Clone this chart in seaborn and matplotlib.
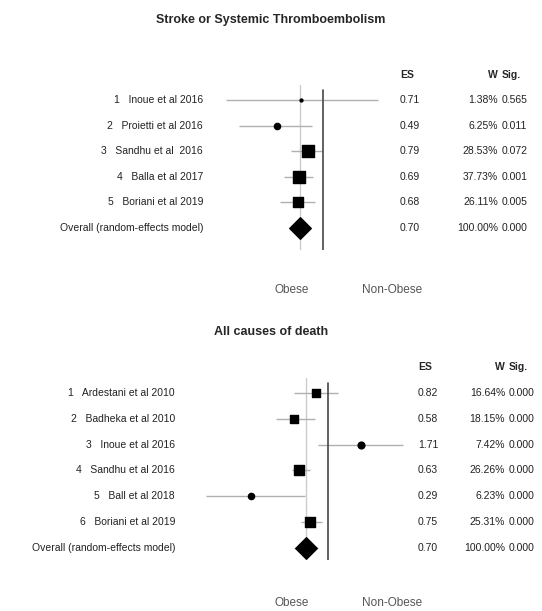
import matplotlib
matplotlib.use("Agg")
import matplotlib.pyplot as plt
import matplotlib.transforms as mtransforms
import seaborn as sns
import numpy as np

sns.set_style("white")
plt.rcParams["font.family"] = ["Liberation Sans", "DejaVu Sans"]

# Panel 1: stroke or systemic thromboembolism
stroke_studies = ["1   Inoue et al 2016", "2   Proietti et al 2016", "3   Sandhu et al  2016",
                  "4   Balla et al 2017", "5   Boriani et al 2019"]
stroke_es = [0.71, 0.49, 0.79, 0.69, 0.68]
stroke_lo = [0.22, 0.27, 0.61, 0.54, 0.51]
stroke_hi = [2.36, 0.84, 1.00, 0.86, 0.88]
stroke_w = ["1.38%", "6.25%", "28.53%", "37.73%", "26.11%"]
stroke_wnum = [1.38, 6.25, 28.53, 37.73, 26.11]
stroke_sig = ["0.565", "0.011", "0.072", "0.001", "0.005"]
stroke_overall = (0.70, 0.62, 0.79, "0.000")

# Panel 2: all causes of death
death_studies = ["1   Ardestani et al 2010", "2   Badheka et al 2010", "3   Inoue et al 2016",
                 "4   Sandhu et al 2016", "5   Ball et al 2018", "6   Boriani et al 2019"]
death_es = [0.82, 0.58, 1.71, 0.63, 0.29, 0.75]
death_lo = [0.58, 0.43, 0.85, 0.56, 0.14, 0.65]
death_hi = [1.17, 0.81, 3.35, 0.75, 0.69, 0.91]
death_w = ["16.64%", "18.15%", "7.42%", "26.26%", "6.23%", "25.31%"]
death_wnum = [16.64, 18.15, 7.42, 26.26, 6.23, 25.31]
death_sig = ["0.000", "0.000", "0.000", "0.000", "0.000", "0.000"]
death_overall = (0.70, 0.58, 0.85, "0.000")

W, H = 542, 611
fig = plt.figure(figsize=(W / 100, H / 100), dpi=100)


def px(x0, ytop, x1, ybot):
    return [x0 / W, 1 - ybot / H, (x1 - x0) / W, (ybot - ytop) / H]


def forest(rect, xlim, ylim, title, title_y, studies, es, lo, hi, wtxt, wnum, sig, overall,
           label_y, cols):
    ax = fig.add_axes(rect)
    ax.set_xscale("log")
    ax.set_xlim(*xlim)
    ax.set_ylim(*ylim)
    ax.axis("off")
    n = len(studies)
    ys = np.arange(n)
    ax.axvline(overall[0], color="#cccccc", lw=1, zorder=0)
    ax.axvline(1.0, color="#555555", lw=1.3, zorder=3, ymax=0.97)
    ax.hlines(ys, lo, hi, color="#b0b0b0", lw=1, zorder=1)
    for y, e, w in zip(ys, es, wnum):
        if w < 10:
            ax.scatter(e, y, s=max(w * 3.2, 4), marker="o", color="black", zorder=4)
        else:
            ax.scatter(e, y, s=w * 2.2, marker="s", color="black", zorder=4)
    ax.hlines(n, overall[1], overall[2], color="#b0b0b0", lw=1, zorder=1)
    ax.scatter(overall[0], n, s=120, marker="D", color="black", zorder=4)

    tr = mtransforms.blended_transform_factory(fig.transFigure, ax.transData)
    fs = 7.5
    labels = studies + ["Overall (random-effects model)"]
    es_txt = [f"{v:.2f}" for v in es] + [f"{overall[0]:.2f}"]
    w_all = wtxt + ["100.00%"]
    sig_all = sig + [overall[3]]
    for i in range(n + 1):
        ax.text(cols[0], i, labels[i], transform=tr, ha="right", va="center", fontsize=fs, color="#222222")
        ax.text(cols[1], i, es_txt[i], transform=tr, ha="left", va="center", fontsize=fs, color="#222222")
        ax.text(cols[2], i, w_all[i], transform=tr, ha="right", va="center", fontsize=fs, color="#222222")
        ax.text(cols[3], i, sig_all[i], transform=tr, ha="left", va="center", fontsize=fs, color="#222222")
    hy = -1
    ax.text(cols[1], hy, "ES", transform=tr, ha="left", va="center", fontsize=fs, fontweight="bold")
    ax.text(cols[2], hy, "W", transform=tr, ha="right", va="center", fontsize=fs, fontweight="bold")
    ax.text(cols[3], hy, "Sig.", transform=tr, ha="left", va="center", fontsize=fs, fontweight="bold")
    fig.text(0.5, 1 - title_y / H, title, ha="center", va="center", fontsize=9, fontweight="bold")
    fig.text(292 / W, 1 - label_y / H, "Obese", ha="center", va="center", fontsize=8.5, color="#555555")
    fig.text(392 / W, 1 - label_y / H, "Non-Obese", ha="center", va="center", fontsize=8.5, color="#555555")
    return ax


forest(px(200, 85, 400, 250), (0.146, 3.33), (5.86, -0.59),
       "Stroke or Systemic Thromboembolism", 20,
       stroke_studies, stroke_es, stroke_lo, stroke_hi, stroke_w, stroke_wnum, stroke_sig,
       stroke_overall, 290, (203 / W, 400 / W, 498 / W, 502 / W))

forest(px(200, 378, 410, 560), (0.127, 3.75), (6.47, -0.58),
       "All causes of death", 332,
       death_studies, death_es, death_lo, death_hi, death_w, death_wnum, death_sig,
       death_overall, 603, (175 / W, 418 / W, 505 / W, 509 / W))

fig.savefig("out.png", dpi=100, facecolor="white")
